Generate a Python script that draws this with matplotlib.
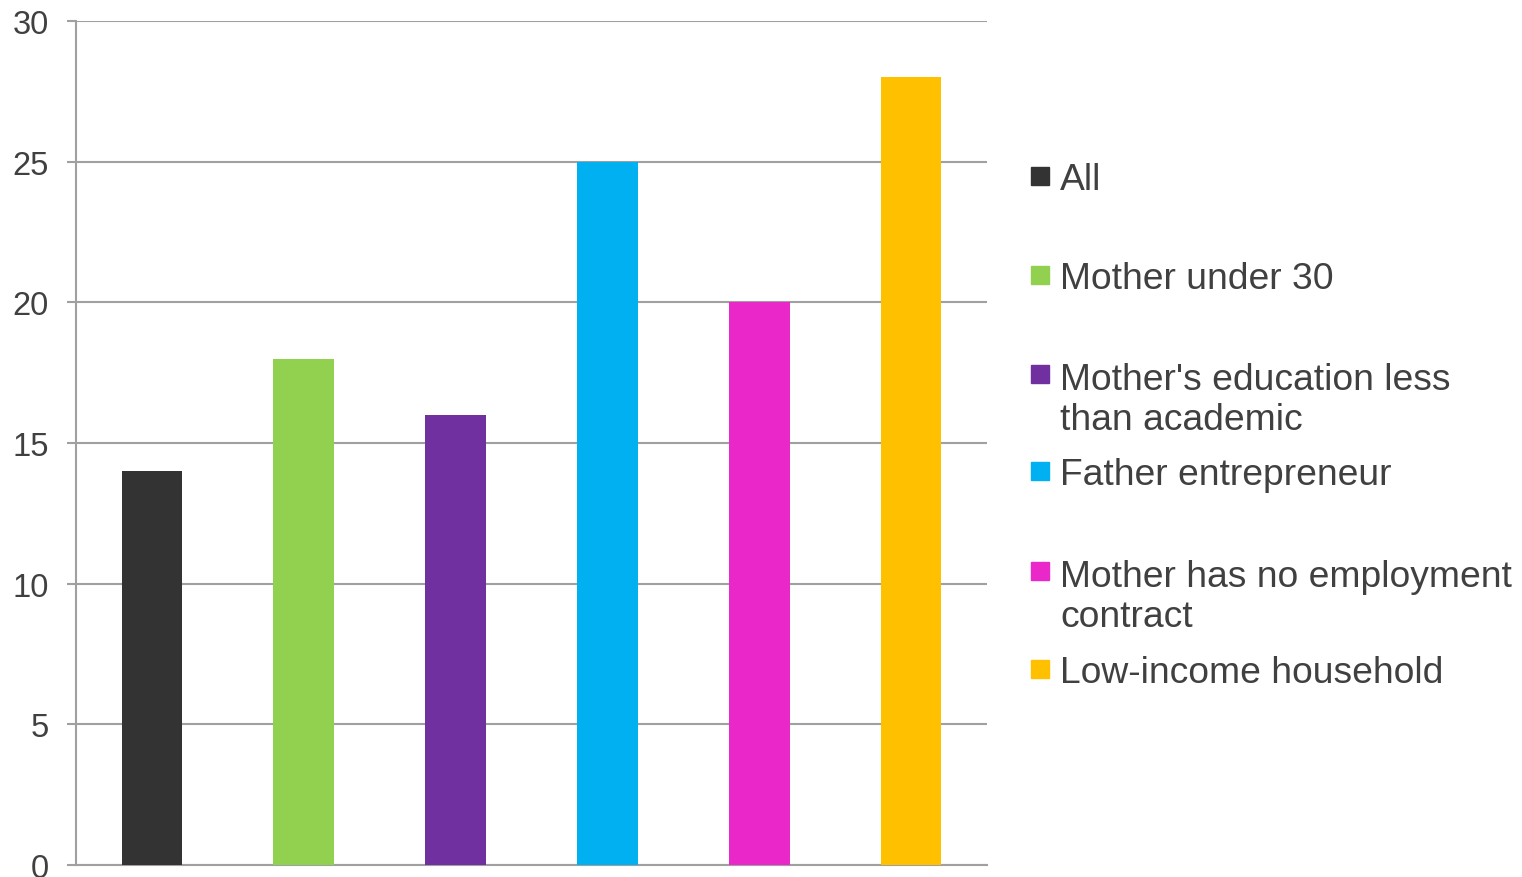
import matplotlib.pyplot as plt
from matplotlib.patches import Rectangle

# share of children per group
groups = ["All", "Mother under 30", "Mother's education less\nthan academic",
          "Father entrepreneur", "Mother has no employment\ncontract",
          "Low-income household"]
values = [14, 18, 16, 25, 20, 28]
colors = ["#333333", "#92D050", "#7030A0", "#00B0F0", "#EA27C9", "#FFC000"]
yticks = [0, 5, 10, 15, 20, 25, 30]

# vertical centre (figure fraction) of the first line of each legend entry
legend_y = [0.7984, 0.6856, 0.5729, 0.4624, 0.3485, 0.2369]

plt.rcParams['font.family'] = ['Liberation Sans', 'DejaVu Sans']
grid_col = "#A0A0A0"
text_col = "#404040"

fig = plt.figure(figsize=(15.22, 8.78), dpi=100)
ax = fig.add_axes([0.0499, 0.0137, 0.5986, 0.9613])

x = range(len(values))
ax.bar(x, values, width=0.4, color=colors, zorder=3)

ax.set_xlim(-0.5, len(values) - 0.5)
ax.set_ylim(0, 30)
ax.set_yticks(yticks)
ax.set_xticks([])
ax.yaxis.grid(True, color=grid_col, linewidth=1.5, zorder=0)
ax.tick_params(axis='y', length=6.5, width=1.5, color=grid_col, pad=13,
               labelsize=23.5, labelcolor=text_col)
for s in ['top', 'right']:
    ax.spines[s].set_visible(False)
for s in ['left', 'bottom']:
    ax.spines[s].set_color(grid_col)
    ax.spines[s].set_linewidth(1.5)

# legend drawn by hand to keep the uneven row spacing;
# baseline alignment uses the last line, so push wrapped labels down
line_step = 0.0478
for lab, col, y in zip(groups, colors, legend_y):
    fig.patches.append(Rectangle((0.6774, y - 0.0105), 0.0118, 0.0205,
                                 transform=fig.transFigure, color=col))
    extra = lab.count('\n') * line_step
    fig.text(0.6965, y - 0.0153 - extra, lab, fontsize=26.8, color=text_col,
             va='baseline', ha='left', linespacing=1.2)

fig.savefig("out.png", dpi=100)
